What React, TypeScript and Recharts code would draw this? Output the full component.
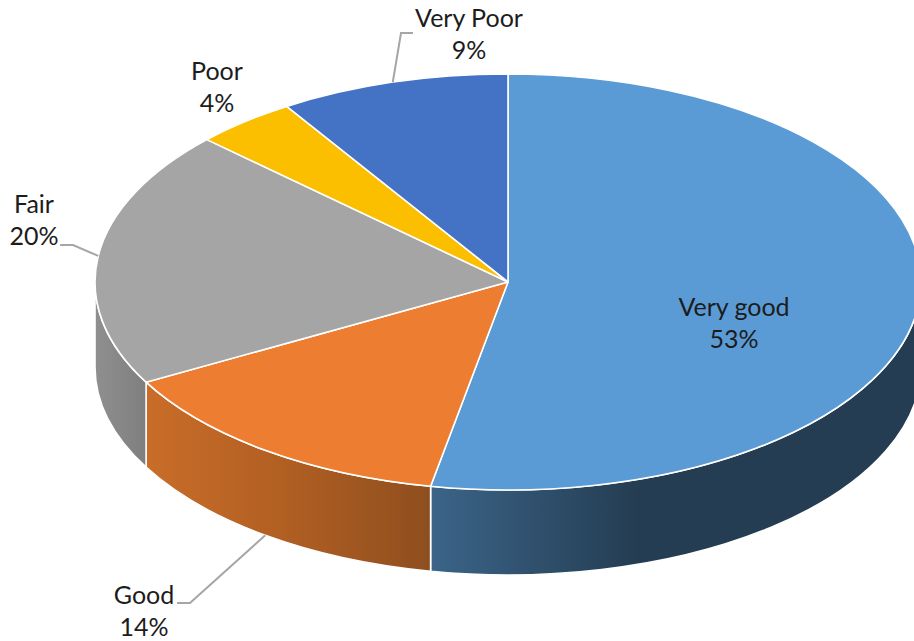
import React from "react";
import { PieChart, Pie } from "recharts";

const categories = ["Very good", "Good", "Fair", "Poor", "Very Poor"];
const shares = [53, 14, 20, 4, 9];
const topColors = ["#5b9bd5", "#ed7d31", "#a5a5a5", "#fbbf00", "#4472c4"];

// Horizontal shading of the rim, one gradient per slice: [id, stops as offset/colour]
const rimGradients: [string, [string, string][]][] = [
  ["rim-0", [["0", "#3b6488"], ["0.42", "#243d52"], ["1", "#243d52"]]],
  ["rim-1", [["0", "#c96d29"], ["0.45", "#b36023"], ["1", "#8e4e1e"]]],
  ["rim-2", [["0", "#8f8f8f"], ["1", "#7f7f7f"]]],
  ["rim-3", [["0", "#a57c00"], ["1", "#a57c00"]]],
  ["rim-4", [["0", "#2c4a80"], ["1", "#2c4a80"]]],
];
const rimSpans: [number, number][] = [
  [431, 921],
  [146, 431],
  [95, 146],
  [0, 914],
  [0, 914],
];

const CENTER_X = 508;
const CENTER_Y = 282;
const RADIUS_X = 413;
const TILT = 208 / 413;
const DEPTH = 85;
const RAD = Math.PI / 180;

// Label centre and first baseline, measured from the pie centre; elbow/end describe the leader line.
const labelLayout = [
  { x: 226, y: 34 },
  { x: -364, y: 322, leader: [[-318, 321], [-331, 321]] },
  { x: -474, y: -69, leader: [[-435, -37], [-448, -37]] },
  { x: -291, y: -202 },
  { x: -39, y: -255, leader: [[-107, -249], [-95, -249]] },
];

const topData = categories.map((name, i) => ({ name, value: shares[i], fill: topColors[i] }));
const rimData = categories.map((name, i) => ({ name, value: shares[i], fill: `url(#rim-${i})` }));

const rimPoint = (cx: number, cy: number, r: number, deg: number) => ({
  x: cx + r * Math.cos(deg * RAD),
  y: cy - r * TILT * Math.sin(deg * RAD),
});

// Flattened sector: the pie angles are projected onto an ellipse.
function TopSlice(props: any) {
  const { cx, cy, outerRadius: r, startAngle, endAngle, fill } = props;
  const a = rimPoint(cx, cy, r, startAngle);
  const b = rimPoint(cx, cy, r, endAngle);
  const large = Math.abs(startAngle - endAngle) > 180 ? 1 : 0;
  const d = `M${cx},${cy}L${a.x},${a.y}A${r},${r * TILT} 0 ${large} 1 ${b.x},${b.y}Z`;
  return <path d={d} fill={fill} stroke="#ffffff" strokeWidth={1.6} strokeLinejoin="round" />;
}

// Visible side wall: only the part of the arc on the lower half of the ellipse.
function RimSlice(props: any) {
  const { cx, cy, outerRadius: r, startAngle, endAngle, fill } = props;
  const from = Math.min(startAngle, 0);
  const to = Math.max(endAngle, -180);
  if (from <= to) return null;
  const a = rimPoint(cx, cy, r, from);
  const b = rimPoint(cx, cy, r, to);
  const ry = r * TILT;
  const d =
    `M${a.x},${a.y}A${r},${ry} 0 0 1 ${b.x},${b.y}` +
    `L${b.x},${b.y + DEPTH}A${r},${ry} 0 0 0 ${a.x},${a.y + DEPTH}Z`;
  return <path d={d} fill={fill} stroke="#ffffff" strokeWidth={1.6} strokeLinejoin="round" />;
}

function SliceLabel(props: any) {
  const { cx, cy, outerRadius: r, midAngle, name, value, index } = props;
  const spot = labelLayout[index];
  const tx = cx + spot.x;
  const ty = cy + spot.y;
  let line = null;
  if (spot.leader) {
    const rim = rimPoint(cx, cy, r, midAngle);
    const startY = Math.sin(midAngle * RAD) < 0 ? rim.y + DEPTH : rim.y;
    const pts = [[rim.x, startY], ...spot.leader.map(([x, y]) => [cx + x, cy + y])];
    line = (
      <polyline
        points={pts.map((p) => p.join(",")).join(" ")}
        fill="none"
        stroke="#a6a6a6"
        strokeWidth={2}
      />
    );
  }
  const textProps = {
    textAnchor: "middle" as const,
    fontFamily: "Lato, sans-serif",
    fontSize: 25,
    fill: "#1c1c1c",
  };
  return (
    <g>
      {line}
      <text x={tx} y={ty} {...textProps}>{name}</text>
      <text x={tx} y={ty + 32} {...textProps}>{`${value}%`}</text>
    </g>
  );
}

export default function App() {
  return (
    <div style={{ width: 914, height: 641, background: "#ffffff" }}>
      <style>{"html,body{margin:0;padding:0}"}</style>
      <PieChart width={914} height={641} margin={{ top: 0, right: 0, bottom: 0, left: 0 }}>
        <defs>
          {rimGradients.map(([id, stops], i) => (
            <linearGradient
              key={id}
              id={id}
              gradientUnits="userSpaceOnUse"
              x1={rimSpans[i][0]}
              x2={rimSpans[i][1]}
              y1={0}
              y2={0}
            >
              {stops.map(([offset, color]) => (
                <stop key={offset} offset={offset} stopColor={color} />
              ))}
            </linearGradient>
          ))}
        </defs>
        <Pie
          data={rimData}
          dataKey="value"
          nameKey="name"
          cx={CENTER_X}
          cy={CENTER_Y}
          outerRadius={RADIUS_X}
          startAngle={90}
          endAngle={-270}
          paddingAngle={0}
          shape={RimSlice}
          isAnimationActive={false}
        />
        <Pie
          data={topData}
          dataKey="value"
          nameKey="name"
          cx={CENTER_X}
          cy={CENTER_Y}
          outerRadius={RADIUS_X}
          startAngle={90}
          endAngle={-270}
          paddingAngle={0}
          shape={TopSlice}
          label={SliceLabel}
          labelLine={false}
          isAnimationActive={false}
        />
      </PieChart>
    </div>
  );
}
